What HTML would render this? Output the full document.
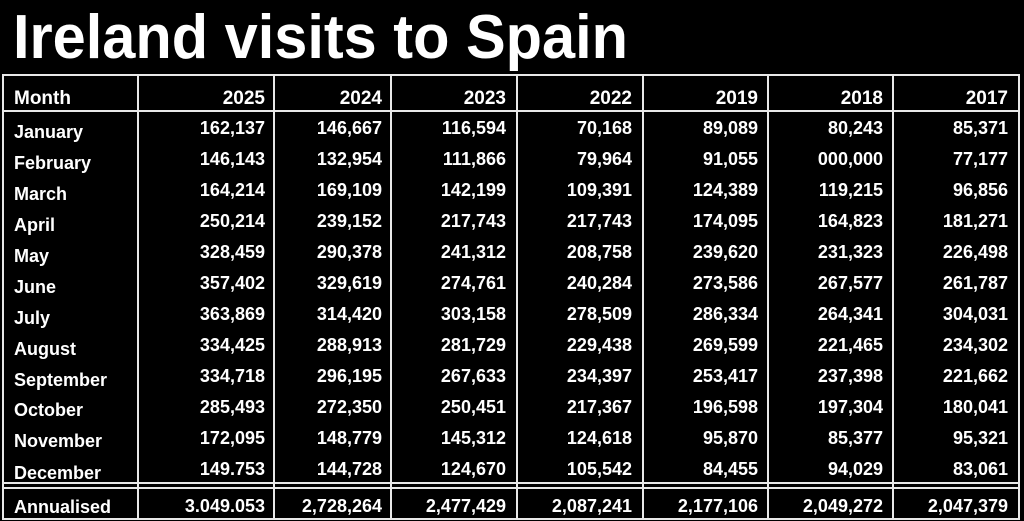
<!DOCTYPE html>
<html><head><meta charset="utf-8"><style>
html,body{margin:0;padding:0;background:#000;}
svg{display:block;}
text{font-family:"Liberation Sans",sans-serif;font-weight:bold;fill:#fff;}
</style></head><body>
<svg width="1024" height="521" viewBox="0 0 1024 521" xmlns="http://www.w3.org/2000/svg">
<rect width="1024" height="521" fill="#000"/>
<text x="13" y="58" font-size="62" textLength="615" lengthAdjust="spacingAndGlyphs">Ireland visits to Spain</text>
<g stroke="#e8e8e8" stroke-width="2" fill="none">
<rect x="3" y="75" width="1016" height="444"/>
<line x1="3" y1="111" x2="1019" y2="111"/>
<line x1="3" y1="483" x2="1019" y2="483"/>
<line x1="3" y1="488" x2="1019" y2="488"/>
<line x1="138" y1="75" x2="138" y2="519"/>
<line x1="274" y1="75" x2="274" y2="519"/>
<line x1="391" y1="75" x2="391" y2="519"/>
<line x1="517" y1="75" x2="517" y2="519"/>
<line x1="643" y1="75" x2="643" y2="519"/>
<line x1="768" y1="75" x2="768" y2="519"/>
<line x1="893" y1="75" x2="893" y2="519"/>
</g>
<g font-size="19">
<text x="14" y="104">Month</text>
<g text-anchor="end">
<text x="265" y="104">2025</text><text x="382" y="104">2024</text><text x="506" y="104">2023</text><text x="632" y="104">2022</text><text x="758" y="104">2019</text><text x="883" y="104">2018</text><text x="1008" y="104">2017</text>
</g>
</g>
<g font-size="18" id="m">
<text x="14" y="138">January</text>
<text x="14" y="169">February</text>
<text x="14" y="200">March</text>
<text x="14" y="231">April</text>
<text x="14" y="262">May</text>
<text x="14" y="293">June</text>
<text x="14" y="324">July</text>
<text x="14" y="355">August</text>
<text x="14" y="386">September</text>
<text x="14" y="416">October</text>
<text x="14" y="447">November</text>
<text x="14" y="479">December</text>
<text x="14" y="513">Annualised</text>
</g>
<g font-size="18" text-anchor="end">
<g transform="translate(265,0)">
<text y="134">162,137</text><text y="165">146,143</text><text y="196">164,214</text><text y="227">250,214</text><text y="258">328,459</text><text y="289">357,402</text><text y="320">363,869</text><text y="351">334,425</text><text y="382">334,718</text><text y="413">285,493</text><text y="444">172,095</text><text y="475">149.753</text><text y="512">3.049.053</text>
</g>
<g transform="translate(382,0)">
<text y="134">146,667</text><text y="165">132,954</text><text y="196">169,109</text><text y="227">239,152</text><text y="258">290,378</text><text y="289">329,619</text><text y="320">314,420</text><text y="351">288,913</text><text y="382">296,195</text><text y="413">272,350</text><text y="444">148,779</text><text y="475">144,728</text><text y="512">2,728,264</text>
</g>
<g transform="translate(506,0)">
<text y="134">116,594</text><text y="165">111,866</text><text y="196">142,199</text><text y="227">217,743</text><text y="258">241,312</text><text y="289">274,761</text><text y="320">303,158</text><text y="351">281,729</text><text y="382">267,633</text><text y="413">250,451</text><text y="444">145,312</text><text y="475">124,670</text><text y="512">2,477,429</text>
</g>
<g transform="translate(632,0)">
<text y="134">70,168</text><text y="165">79,964</text><text y="196">109,391</text><text y="227">217,743</text><text y="258">208,758</text><text y="289">240,284</text><text y="320">278,509</text><text y="351">229,438</text><text y="382">234,397</text><text y="413">217,367</text><text y="444">124,618</text><text y="475">105,542</text><text y="512">2,087,241</text>
</g>
<g transform="translate(758,0)">
<text y="134">89,089</text><text y="165">91,055</text><text y="196">124,389</text><text y="227">174,095</text><text y="258">239,620</text><text y="289">273,586</text><text y="320">286,334</text><text y="351">269,599</text><text y="382">253,417</text><text y="413">196,598</text><text y="444">95,870</text><text y="475">84,455</text><text y="512">2,177,106</text>
</g>
<g transform="translate(883,0)">
<text y="134">80,243</text><text y="165">000,000</text><text y="196">119,215</text><text y="227">164,823</text><text y="258">231,323</text><text y="289">267,577</text><text y="320">264,341</text><text y="351">221,465</text><text y="382">237,398</text><text y="413">197,304</text><text y="444">85,377</text><text y="475">94,029</text><text y="512">2,049,272</text>
</g>
<g transform="translate(1008,0)">
<text y="134">85,371</text><text y="165">77,177</text><text y="196">96,856</text><text y="227">181,271</text><text y="258">226,498</text><text y="289">261,787</text><text y="320">304,031</text><text y="351">234,302</text><text y="382">221,662</text><text y="413">180,041</text><text y="444">95,321</text><text y="475">83,061</text><text y="512">2,047,379</text>
</g>
</g>
</svg>
</body></html>
